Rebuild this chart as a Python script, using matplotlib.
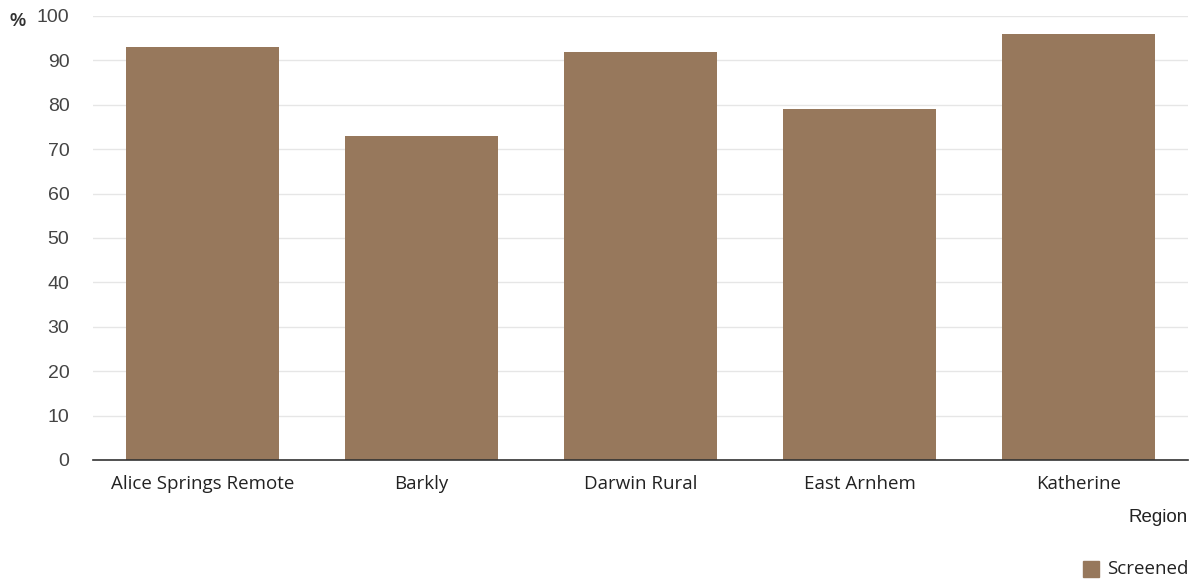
import matplotlib
matplotlib.use("Agg")
import matplotlib.pyplot as plt
from matplotlib.patches import Rectangle

# Screening coverage by region
regions = ["Alice Springs Remote", "Barkly", "Darwin Rural", "East Arnhem", "Katherine"]
screened = [93, 73, 92, 79, 96]
y_ticks = [0, 10, 20, 30, 40, 50, 60, 70, 80, 90, 100]

bar_color = "#97785c"
text_color = "#333333"

fig = plt.figure(figsize=(11.97, 5.82), dpi=100)
ax = fig.add_axes([93 / 1197, 122 / 582, 1095 / 1197, 444 / 582])

x = list(range(len(regions)))
ax.bar(x, screened, width=0.7, color=bar_color, zorder=2)

ax.set_xlim(-0.5, len(regions) - 0.5)
ax.set_ylim(0, 100)
ax.set_yticks(y_ticks)
ax.set_yticklabels([str(t) for t in y_ticks], fontsize=14, color="#444444",
                   family="Liberation Sans")
ax.set_xticks(x)
ax.set_xticklabels(regions, fontsize=13.5, color="#222222", family="Open Sans")
ax.tick_params(axis="y", length=0, pad=17)
ax.tick_params(axis="x", length=0, pad=11)

ax.grid(axis="y", color="#e6e6e6", linewidth=1, zorder=0)
for side in ["top", "right", "left"]:
    ax.spines[side].set_visible(False)
ax.spines["bottom"].set_color("#333333")
ax.spines["bottom"].set_linewidth(1.2)
ax.spines["bottom"].set_zorder(3)

# unit label and axis title
fig.text(10 / 1197, 1 - 21 / 582, "%", fontsize=13, fontweight="bold",
         color=text_color, family="Liberation Sans", va="center", ha="left")
fig.text(1188 / 1197, 1 - 518 / 582, "Region", fontsize=13.5,
         color="#222222", family="Liberation Sans",
         va="center", ha="right")

# legend
fig.patches.append(Rectangle((1083 / 1197, 1 - 577 / 582), 16 / 1197, 16 / 582,
                             transform=fig.transFigure, color=bar_color))
fig.text(1188 / 1197, 1 - 569 / 582, "Screened", fontsize=13.5,
         color="#222222", family="Open Sans", va="center", ha="right")

fig.savefig("out.png", dpi=100, facecolor="white")
